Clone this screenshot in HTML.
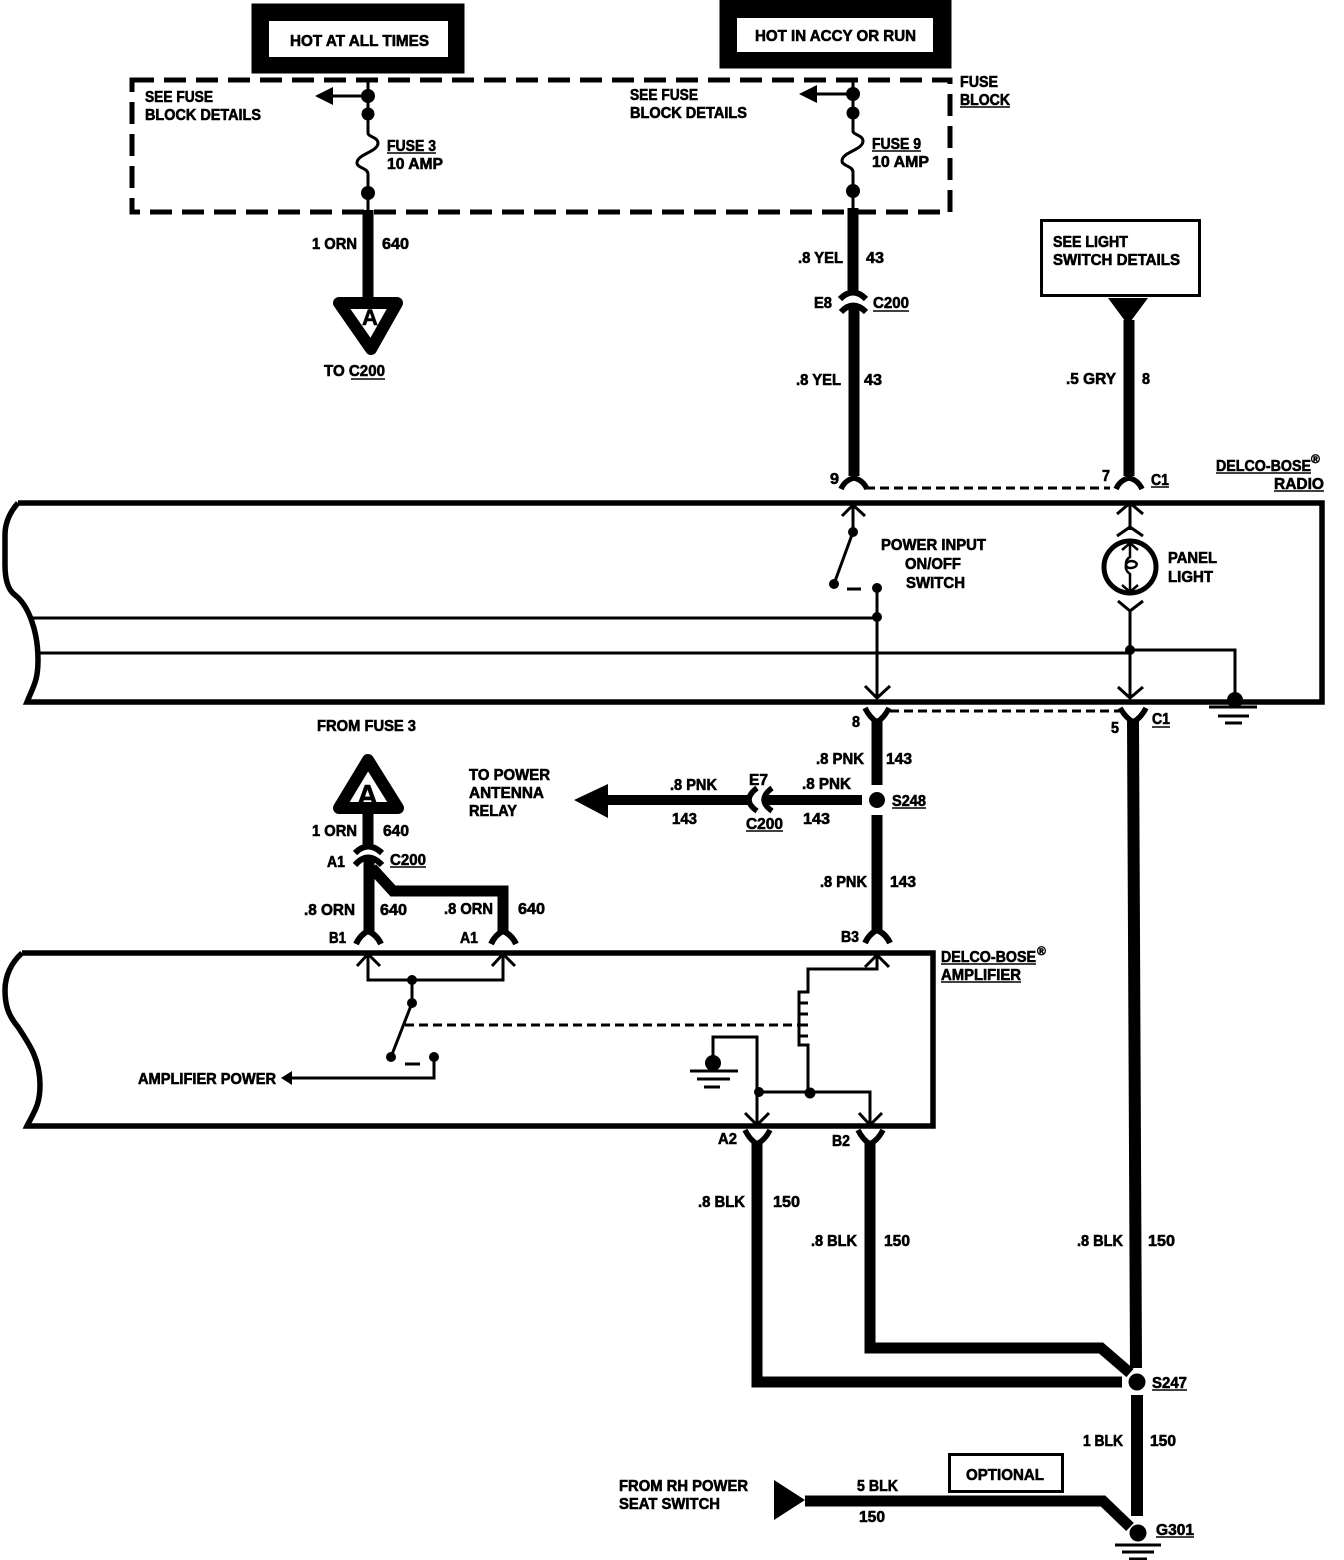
<!DOCTYPE html>
<html><head><meta charset="utf-8"><style>
html,body{margin:0;padding:0;background:#fff}
svg{display:block}
text{font-family:"Liberation Sans",sans-serif;font-weight:bold;font-size:15.5px;fill:#000;stroke:#000;stroke-width:.6px}
</style></head><body>
<svg width="1344" height="1560" viewBox="0 0 1344 1560" xmlns="http://www.w3.org/2000/svg">
<g fill="none" stroke="#000" stroke-linejoin="miter">
<!-- top boxes -->
<rect x="252" y="4" width="212" height="69" fill="#000"/><rect x="269" y="21" width="179" height="36" fill="#fff" stroke="none"/>
<rect x="720" y="0" width="231" height="68" fill="#000"/><rect x="737" y="18" width="196" height="34" fill="#fff" stroke="none"/>
<!-- fuse block -->
<rect x="132" y="80" width="818" height="132" stroke-width="5" stroke-dasharray="22 10"/>
<!-- fuse 3 -->
<path d="M368 80V133C368 137 378 137 378 143C378 152 357 154 357 163C357 168 368 168 368 174V212M368 96H330" stroke-width="3"/>
<!-- fuse 9 -->
<path d="M853 80V131C853 135 863 135 863 141C863 150 842 152 842 161C842 166 853 166 853 172V210M853 94H815" stroke-width="3"/>
<!-- thick wires -->
<path d="M368 210V300" stroke-width="11"/>
<path d="M853 208V292M854 306V476" stroke-width="11"/>
<path d="M1129 320V476" stroke-width="11"/>
<path d="M840 299Q853 286 866 299" stroke-width="6"/>
<path d="M841 312Q853 299 866 312" stroke-width="6"/>
<!-- triangle A down -->
<path d="M339 303H397L371 349Z" stroke-width="12" stroke-linejoin="round" fill="#fff"/>
<!-- light switch box -->
<rect x="1041.500" y="220.500" width="158" height="75" stroke-width="3"/>
<!-- forks top -->
<path d="M841 489Q845 480 854 478Q863 480 867 489M1116 489Q1120 480 1129 478Q1138 480 1142 489" stroke-width="5.500"/>
<path d="M866 488H1110" stroke-width="3" stroke-dasharray="9 5"/>
<!-- radio box -->
<path d="M18 503H1322V702H27C34 685 38 680 38 660C38 630 28 605 15 595C8 590 5 580 5 565V535C5 522 10 512 18 503" stroke-width="5.500"/>
<path d="M33 618H877M38 653H1130V650H1235V700" stroke-width="3"/>
<path d="M877 588V698M1130 610V698M853 505V532L834 584M847 589H861" stroke-width="3"/>
<path d="M1130 505V530" stroke-width="3"/>
<path d="M842 516L853 505L865 516M1117 514L1130 503L1143 514M1117 536L1130 527L1143 536M1118 601L1130 611L1143 601M865 686L877 698L890 686M1118 687L1130 698L1143 687" stroke-width="3"/>
<circle cx="1130" cy="567" r="26" stroke-width="5"/>
<path d="M1130 543V557C1125 560 1124 568 1130 568C1138 568 1139 562 1132 561C1124 561 1124 570 1130 574V592M1122 550L1130 543L1138 550M1122 585L1130 592L1138 585" stroke-width="2.500"/>
<!-- under radio -->
<path d="M865 708Q870 718 877 722Q884 718 889 708M1120 708Q1126 718 1133 722Q1141 718 1146 708" stroke-width="5.500"/>
<path d="M890 711H1122" stroke-width="3" stroke-dasharray="9 5"/>
<path d="M877 720V785M877 815V932" stroke-width="11"/>
<path d="M1133 720L1136 1368M1137 1395V1516" stroke-width="12"/>
<path d="M1209 707H1257M1218 716H1249M1225 723H1242" stroke-width="3"/>
<!-- pink branch -->
<path d="M862 800H765M748 800H605" stroke-width="10"/>
<path d="M757 788Q741 800 757 811M772 788Q756 800 772 811" stroke-width="5.500"/>
<!-- triangle A up -->
<path d="M368 760L398 808H339Z" stroke-width="12" stroke-linejoin="round" fill="#fff"/>
<path d="M368 812V846M369 857V932" stroke-width="11"/>
<path d="M372 868L393 891H503V932" stroke-width="11"/>
<path d="M355 853Q368 840 382 853M355 865Q368 850 382 865" stroke-width="6"/>
<path d="M356 944Q360 935 368 931Q377 935 381 944M491 944Q495 935 503 931Q512 935 516 944M865 943Q869 934 877 930Q886 934 890 943" stroke-width="6"/>
<!-- amp box -->
<path d="M22 953H933V1126H27C34 1112 40 1105 40 1085C40 1060 30 1045 18 1027C8 1015 5 1005 5 990C5 975 12 962 22 953" stroke-width="5.500"/>
<path d="M368 955V980H503V955M412 980V1003L391 1057M405 1064H420M434 1057V1078H290" stroke-width="3"/>
<path d="M357 966L368 954L380 966M492 966L503 954L515 966M865 967L877 955L889 967M745 1113L757 1125L769 1113M859 1113L870 1125L882 1113" stroke-width="3"/>
<path d="M877 955V969H808V992H799V1045H808V1093M799 1003H808M799 1014H808M799 1025H808M799 1036H808" stroke-width="3"/>
<path d="M405 1025H798" stroke-width="3" stroke-dasharray="9 5"/>
<path d="M713 1062V1037H757V1125M757 1092H870V1125" stroke-width="3"/>
<path d="M690 1071H738M697 1079H730M704 1087H720" stroke-width="3"/>
<path d="M745 1130Q750 1140 757 1144Q765 1140 770 1130M858 1130Q863 1140 870 1144Q878 1140 883 1130" stroke-width="5.500"/>
<!-- bottom wires -->
<path d="M757 1142V1382H1122" stroke-width="11"/>
<path d="M870 1142V1348H1101L1130 1373" stroke-width="11"/>
<path d="M805 1501H1103L1130 1527" stroke-width="11"/>
<rect x="949.500" y="1454.500" width="113" height="37" stroke-width="3"/>
<path d="M1115 1545H1161M1122 1552H1154M1129 1559H1147" stroke-width="3"/>
<!-- underlines -->
<path d="M387 153H436M872 151H921M960 107H1010M873 311H909M351 379H385M1151 487H1169M1216 473H1311M1274 491H1324M1152 727H1170M892 808H926M746 831H783M390 867H426M941 964H1036M941 982H1021M1152 1390H1187M1156 1537H1194" stroke-width="1.500"/>
</g>
<g fill="#000">
<circle cx="368" cy="96" r="7"/><circle cx="368" cy="114" r="6.500"/><circle cx="368" cy="193" r="7"/>
<circle cx="853" cy="94" r="7"/><circle cx="853" cy="113" r="6.500"/><circle cx="853" cy="191" r="7"/>
<path d="M315 96L333 87V105ZM799 94L817 85V103Z"/>
<path d="M1108 298H1148L1128 325Z"/>
<circle cx="853" cy="532" r="5"/><circle cx="834" cy="584" r="5"/><circle cx="877" cy="588" r="5"/><circle cx="877" cy="617" r="5"/><circle cx="1130" cy="650" r="5"/>
<circle cx="1235" cy="700" r="8"/>
<circle cx="877" cy="800" r="8"/>
<path d="M574 800L608 784V818Z"/>
<circle cx="412" cy="980" r="5"/><circle cx="412" cy="1003" r="5"/><circle cx="391" cy="1057" r="5"/><circle cx="434" cy="1057" r="5"/>
<path d="M281 1078L292 1071V1085Z"/>
<circle cx="713" cy="1063" r="8"/><circle cx="759" cy="1092" r="5"/><circle cx="810" cy="1093" r="5.500"/>
<circle cx="1137" cy="1382" r="8.500"/>
<circle cx="1138" cy="1533" r="8.500"/>
<path d="M774 1480L805 1500L774 1520Z"/>
</g>
<text x="290" y="46" textLength="139" lengthAdjust="spacingAndGlyphs">HOT AT ALL TIMES</text>
<text x="755" y="41" textLength="161" lengthAdjust="spacingAndGlyphs">HOT IN ACCY OR RUN</text>
<text x="145" y="102" textLength="68" lengthAdjust="spacingAndGlyphs">SEE FUSE</text>
<text x="145" y="120" textLength="116" lengthAdjust="spacingAndGlyphs">BLOCK DETAILS</text>
<text x="630" y="100" textLength="68" lengthAdjust="spacingAndGlyphs">SEE FUSE</text>
<text x="630" y="118" textLength="117" lengthAdjust="spacingAndGlyphs">BLOCK DETAILS</text>
<text x="387" y="151" textLength="49" lengthAdjust="spacingAndGlyphs">FUSE 3</text>
<text x="387" y="169" textLength="56" lengthAdjust="spacingAndGlyphs">10 AMP</text>
<text x="872" y="149" textLength="49" lengthAdjust="spacingAndGlyphs">FUSE 9</text>
<text x="872" y="167" textLength="57" lengthAdjust="spacingAndGlyphs">10 AMP</text>
<text x="960" y="87" textLength="38" lengthAdjust="spacingAndGlyphs">FUSE</text>
<text x="960" y="105" textLength="50" lengthAdjust="spacingAndGlyphs">BLOCK</text>
<text x="312" y="249" textLength="45" lengthAdjust="spacingAndGlyphs">1 ORN</text>
<text x="382" y="249" textLength="27" lengthAdjust="spacingAndGlyphs">640</text>
<text x="798" y="263" textLength="45" lengthAdjust="spacingAndGlyphs">.8 YEL</text>
<text x="866" y="263" textLength="18" lengthAdjust="spacingAndGlyphs">43</text>
<text x="814" y="308" textLength="18" lengthAdjust="spacingAndGlyphs">E8</text>
<text x="873" y="308" textLength="36" lengthAdjust="spacingAndGlyphs">C200</text>
<text x="796" y="385" textLength="45" lengthAdjust="spacingAndGlyphs">.8 YEL</text>
<text x="864" y="385" textLength="18" lengthAdjust="spacingAndGlyphs">43</text>
<text x="1053" y="247" textLength="75" lengthAdjust="spacingAndGlyphs">SEE LIGHT</text>
<text x="1053" y="265" textLength="127" lengthAdjust="spacingAndGlyphs">SWITCH DETAILS</text>
<text x="1066" y="384" textLength="50" lengthAdjust="spacingAndGlyphs">.5 GRY</text>
<text x="1142" y="384" textLength="8" lengthAdjust="spacingAndGlyphs">8</text>
<text x="324" y="376" textLength="61" lengthAdjust="spacingAndGlyphs">TO C200</text>
<text x="362" y="325" style="font-size:22px">A</text>
<text x="830" y="484" textLength="9" lengthAdjust="spacingAndGlyphs">9</text>
<text x="1102" y="481" textLength="8" lengthAdjust="spacingAndGlyphs">7</text>
<text x="1151" y="485" textLength="18" lengthAdjust="spacingAndGlyphs">C1</text>
<text x="1216" y="471" textLength="95" lengthAdjust="spacingAndGlyphs">DELCO-BOSE</text>
<text x="1311" y="463" style="font-size:12px">®</text>
<text x="1274" y="489" textLength="50" lengthAdjust="spacingAndGlyphs">RADIO</text>
<text x="881" y="550" textLength="105" lengthAdjust="spacingAndGlyphs">POWER INPUT</text>
<text x="905" y="569" textLength="56" lengthAdjust="spacingAndGlyphs">ON/OFF</text>
<text x="906" y="588" textLength="59" lengthAdjust="spacingAndGlyphs">SWITCH</text>
<text x="1168" y="563" textLength="49" lengthAdjust="spacingAndGlyphs">PANEL</text>
<text x="1168" y="582" textLength="45" lengthAdjust="spacingAndGlyphs">LIGHT</text>
<text x="852" y="727" textLength="8" lengthAdjust="spacingAndGlyphs">8</text>
<text x="1111" y="733" textLength="8" lengthAdjust="spacingAndGlyphs">5</text>
<text x="1152" y="724" textLength="18" lengthAdjust="spacingAndGlyphs">C1</text>
<text x="317" y="731" textLength="99" lengthAdjust="spacingAndGlyphs">FROM FUSE 3</text>
<text x="469" y="780" textLength="81" lengthAdjust="spacingAndGlyphs">TO POWER</text>
<text x="469" y="798" textLength="75" lengthAdjust="spacingAndGlyphs">ANTENNA</text>
<text x="469" y="816" textLength="48" lengthAdjust="spacingAndGlyphs">RELAY</text>
<text x="816" y="764" textLength="48" lengthAdjust="spacingAndGlyphs">.8 PNK</text>
<text x="886" y="764" textLength="26" lengthAdjust="spacingAndGlyphs">143</text>
<text x="670" y="790" textLength="47" lengthAdjust="spacingAndGlyphs">.8 PNK</text>
<text x="672" y="824" textLength="25" lengthAdjust="spacingAndGlyphs">143</text>
<text x="749" y="785" textLength="19" lengthAdjust="spacingAndGlyphs">E7</text>
<text x="802" y="789" textLength="49" lengthAdjust="spacingAndGlyphs">.8 PNK</text>
<text x="803" y="824" textLength="27" lengthAdjust="spacingAndGlyphs">143</text>
<text x="746" y="829" textLength="37" lengthAdjust="spacingAndGlyphs">C200</text>
<text x="892" y="806" textLength="34" lengthAdjust="spacingAndGlyphs">S248</text>
<text x="357" y="805" style="font-size:29px">A</text>
<text x="312" y="836" textLength="45" lengthAdjust="spacingAndGlyphs">1 ORN</text>
<text x="383" y="836" textLength="26" lengthAdjust="spacingAndGlyphs">640</text>
<text x="327" y="867" textLength="18" lengthAdjust="spacingAndGlyphs">A1</text>
<text x="390" y="865" textLength="36" lengthAdjust="spacingAndGlyphs">C200</text>
<text x="304" y="915" textLength="51" lengthAdjust="spacingAndGlyphs">.8 ORN</text>
<text x="380" y="915" textLength="27" lengthAdjust="spacingAndGlyphs">640</text>
<text x="444" y="914" textLength="49" lengthAdjust="spacingAndGlyphs">.8 ORN</text>
<text x="518" y="914" textLength="27" lengthAdjust="spacingAndGlyphs">640</text>
<text x="820" y="887" textLength="47" lengthAdjust="spacingAndGlyphs">.8 PNK</text>
<text x="890" y="887" textLength="26" lengthAdjust="spacingAndGlyphs">143</text>
<text x="329" y="943" textLength="17" lengthAdjust="spacingAndGlyphs">B1</text>
<text x="460" y="943" textLength="18" lengthAdjust="spacingAndGlyphs">A1</text>
<text x="841" y="942" textLength="18" lengthAdjust="spacingAndGlyphs">B3</text>
<text x="941" y="962" textLength="95" lengthAdjust="spacingAndGlyphs">DELCO-BOSE</text>
<text x="1037" y="955" style="font-size:12px">®</text>
<text x="941" y="980" textLength="80" lengthAdjust="spacingAndGlyphs">AMPLIFIER</text>
<text x="138" y="1084" textLength="138" lengthAdjust="spacingAndGlyphs">AMPLIFIER POWER</text>
<text x="718" y="1144" textLength="19" lengthAdjust="spacingAndGlyphs">A2</text>
<text x="832" y="1146" textLength="18" lengthAdjust="spacingAndGlyphs">B2</text>
<text x="698" y="1207" textLength="47" lengthAdjust="spacingAndGlyphs">.8 BLK</text>
<text x="773" y="1207" textLength="27" lengthAdjust="spacingAndGlyphs">150</text>
<text x="811" y="1246" textLength="46" lengthAdjust="spacingAndGlyphs">.8 BLK</text>
<text x="884" y="1246" textLength="26" lengthAdjust="spacingAndGlyphs">150</text>
<text x="1077" y="1246" textLength="46" lengthAdjust="spacingAndGlyphs">.8 BLK</text>
<text x="1148" y="1246" textLength="27" lengthAdjust="spacingAndGlyphs">150</text>
<text x="1152" y="1388" textLength="35" lengthAdjust="spacingAndGlyphs">S247</text>
<text x="1083" y="1446" textLength="40" lengthAdjust="spacingAndGlyphs">1 BLK</text>
<text x="1150" y="1446" textLength="26" lengthAdjust="spacingAndGlyphs">150</text>
<text x="966" y="1480" textLength="78" lengthAdjust="spacingAndGlyphs">OPTIONAL</text>
<text x="857" y="1491" textLength="41" lengthAdjust="spacingAndGlyphs">5 BLK</text>
<text x="859" y="1522" textLength="26" lengthAdjust="spacingAndGlyphs">150</text>
<text x="619" y="1491" textLength="129" lengthAdjust="spacingAndGlyphs">FROM RH POWER</text>
<text x="619" y="1509" textLength="101" lengthAdjust="spacingAndGlyphs">SEAT SWITCH</text>
<text x="1156" y="1535" textLength="38" lengthAdjust="spacingAndGlyphs">G301</text>
</svg>
</body></html>
